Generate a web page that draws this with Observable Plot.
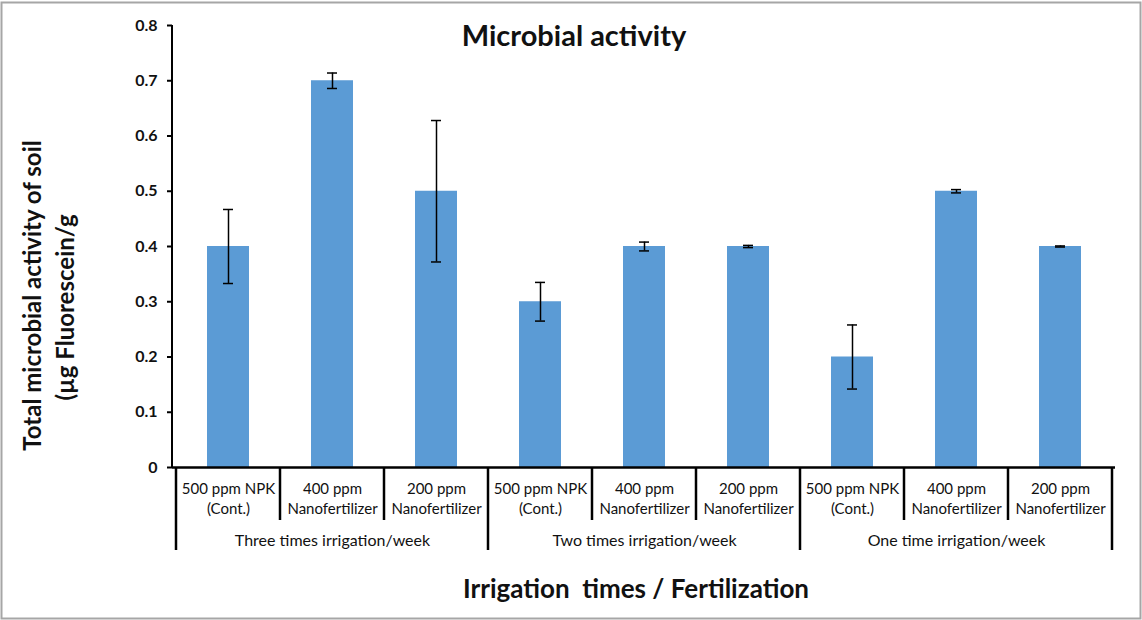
<!DOCTYPE html>
<html>
<head>
<meta charset="utf-8">
<script src="https://cdn.jsdelivr.net/npm/d3@7"></script>
<script src="https://cdn.jsdelivr.net/npm/@observablehq/plot@0.6"></script>
<style>
  html, body { margin: 0; padding: 0; background: #fff; }
  #chart svg { display: block; }
</style>
</head>
<body>
<div id="chart"></div>
<script>
// ---- data ----
const groups = ["Three times irrigation/week", "Two times irrigation/week", "One time irrigation/week"];
const treatments = ["500 ppm NPK\n(Cont.)", "400 ppm\nNanofertilizer", "200 ppm\nNanofertilizer"];
const values = [0.4, 0.7, 0.5, 0.3, 0.4, 0.4, 0.2, 0.5, 0.4];
const errors = [0.067, 0.014, 0.128, 0.035, 0.008, 0.002, 0.058, 0.003, 0.001];
const yTicks = [0, 0.1, 0.2, 0.3, 0.4, 0.5, 0.6, 0.7, 0.8];
const title = "Microbial activity";
const yLabel1 = "Total microbial activity of soil";
const yLabel2 = "(µg Fluorescein/g";
const xLabel = "Irrigation  times / Fertilization";

// ---- table built from arrays ----
const rows = values.map((v, i) => ({
  id: "c" + i,
  group: groups[Math.floor(i / treatments.length)],
  label: treatments[i % treatments.length],
  value: v,
  err: errors[i],
  lo: v - errors[i],
  hi: v + errors[i]
}));
const ids = rows.map(d => d.id);
const groupRows = groups.map((g, gi) => ({ group: g, id: ids[gi * treatments.length + 1] }));

const textColor = "#111";
const font = "Lato, 'Open Sans', sans-serif";

// custom mark: axis lines, category separators, outer border (uses Plot scales & dimensions)
function frameLines(index, scales, values, dimensions) {
  const x = scales.x;
  const bw = typeof x.bandwidth === "function" ? x.bandwidth() : (x.bandwidth || 0);
  const step = x(ids[1]) - x(ids[0]);
  const {width, height, marginLeft, marginRight, marginTop, marginBottom} = dimensions;
  const y0 = height - marginBottom;
  const g = d3.create("svg:g");
  g.append("rect").attr("x", 1.5).attr("y", 2.5).attr("width", width - 3).attr("height", height - 4)
    .attr("fill", "none").attr("stroke", "#a6a6a6").attr("stroke-width", 2);
  g.append("line").attr("x1", marginLeft).attr("x2", marginLeft).attr("y1", marginTop).attr("y2", y0)
    .attr("stroke", "#000").attr("stroke-width", 2);
  for (let i = 0; i <= ids.length; i++) {
    const xc = i < ids.length ? x(ids[i]) + bw / 2 - step / 2 : x(ids[ids.length - 1]) + bw / 2 + step / 2;
    const long = i % treatments.length === 0;
    g.append("line").attr("x1", xc).attr("x2", xc).attr("y1", y0).attr("y2", y0 + (long ? 83 : 53))
      .attr("stroke", "#000").attr("stroke-width", 2.5);
  }
  return g.node();
}

const plot = Plot.plot({
  width: 1142,
  height: 620,
  marginLeft: 172,
  marginRight: 27,
  marginTop: 25,
  marginBottom: 153,
  style: { fontFamily: font, background: "#fff", color: textColor },
  x: { type: "band", domain: ids, paddingInner: 0.6, paddingOuter: 0.3, axis: null },
  y: { domain: [0, 0.8], axis: null },
  marks: [
    frameLines,
    Plot.axisY({
      ticks: yTicks,
      tickFormat: d => d === 0 ? "0" : d.toFixed(1),
      tickSize: 5,
      tickPadding: 10,
      fontSize: 16,
      fontWeight: "bold",
      strokeWidth: 2,
      stroke: "#000",
      fill: textColor,
      label: null
    }),
    Plot.barY(rows, { x: "id", y: "value", fill: "#5b9bd5" }),
    Plot.ruleY([0], { stroke: "#000", strokeWidth: 2.5 }),
    Plot.ruleX(rows, { x: "id", y1: "lo", y2: "hi", stroke: "#000", strokeWidth: 1.5 }),
    Plot.tickY(rows, { x: "id", y: "lo", stroke: "#000", strokeWidth: 1.5, insetLeft: 16, insetRight: 16 }),
    Plot.tickY(rows, { x: "id", y: "hi", stroke: "#000", strokeWidth: 1.5, insetLeft: 16, insetRight: 16 }),
    // category labels
    Plot.text(rows, { x: "id", text: "label", frameAnchor: "bottom", lineAnchor: "top", dy: 13,
      fontSize: 15, lineHeight: 1.3, fill: textColor }),
    // group labels
    Plot.text(groupRows, { x: "id", text: "group", frameAnchor: "bottom", lineAnchor: "middle", dy: 73,
      fontSize: 16, fill: textColor }),
    // title
    Plot.text([title], { frameAnchor: "top", dx: -70, dy: 11, lineAnchor: "middle",
      fontSize: 29, fontWeight: "bold", fill: textColor }),
    // x axis title
    Plot.text([xLabel], { frameAnchor: "bottom", dx: -8, dy: 122, lineAnchor: "middle",
      fontSize: 26, fontWeight: "bold", fill: textColor }),
    // y axis title (two lines)
    Plot.text([yLabel1], { frameAnchor: "left", textAnchor: "middle", rotate: -90, dx: -139, dy: 49,
      lineAnchor: "middle", fontSize: 24, fontWeight: "bold", fill: textColor }),
    Plot.text([yLabel2], { frameAnchor: "left", textAnchor: "middle", rotate: -90, dx: -106, dy: 61,
      lineAnchor: "middle", fontSize: 24, fontWeight: "bold", fill: textColor })
  ]
});
document.getElementById("chart").appendChild(plot);
</script>
</body>
</html>
